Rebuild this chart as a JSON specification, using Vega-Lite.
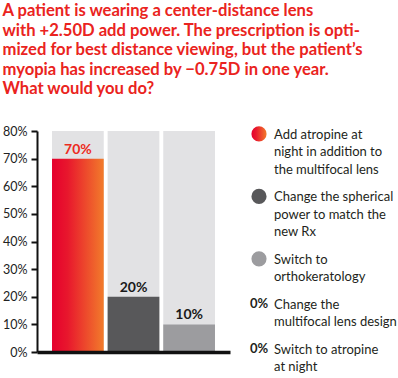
{
  "$schema": "https://vega.github.io/schema/vega-lite/v6.json",
  "padding": {"left": 2, "top": 3, "right": 0, "bottom": 0},
  "autosize": {"type": "pad"},
  "bounds": "flush",
  "spacing": 12,
  "background": "white",
  "config": {
    "view": {"stroke": null},
    "font": "Lato",
    "axisY": {
      "title": null,
      "grid": false,
      "ticks": true,
      "zindex": 2,
      "domainColor": "#111111",
      "domainWidth": 2,
      "tickColor": "#111111",
      "tickWidth": 2,
      "tickSize": 6,
      "labelPadding": 4,
      "labelOverlap": false,
      "labelFontSize": 12.5,
      "labelColor": "#222222",
      "labelFont": "Lato"
    }
  },
  "title": {
    "text": [
      "A patient is wearing a center-distance lens",
      "with +2.50D add power. The prescription is opti-",
      "mized for best distance viewing, but the patient’s",
      "myopia has increased by −0.75D in one year.",
      "What would you do?"
    ],
    "anchor": "start",
    "font": "Lato",
    "fontSize": 16.6,
    "fontWeight": "bold",
    "color": "#ea2320",
    "lineHeight": 19.5,
    "offset": 27
  },
  "datasets": {
    "votes": [
      {"option": "A", "label": "Add atropine at\nnight in addition to\nthe multifocal lens", "share": 0.7, "slot": 0, "marker": "circle"},
      {"option": "B", "label": "Change the spherical\npower to match the\nnew Rx", "share": 0.2, "slot": 3.6, "marker": "circle"},
      {"option": "C", "label": "Switch to\northokeratology", "share": 0.1, "slot": 7.2, "marker": "circle"},
      {"option": "D", "label": "Change the\nmultifocal lens design", "share": 0, "slot": 9.8, "marker": "text"},
      {"option": "E", "label": "Switch to atropine\nat night", "share": 0, "slot": 12.4, "marker": "text"}
    ]
  },
  "hconcat": [
    {
      "width": 193,
      "height": 221,
      "data": {"name": "votes"},
      "transform": [{"filter": "datum.share > 0"}],
      "encoding": {
        "x": {
          "field": "option",
          "type": "nominal",
          "scale": {"paddingInner": 0.07, "paddingOuter": 0.27},
          "axis": {"labels": false, "ticks": false, "title": null, "domainColor": "#111111", "domainWidth": 3.5, "zindex": 2}
        }
      },
      "layer": [
        {
          "mark": {"type": "bar", "color": "#e2e2e4"},
          "encoding": {
            "y": {
              "datum": 0.8,
              "type": "quantitative",
              "scale": {"domain": [0, 0.8], "nice": false},
              "axis": {"format": ".0%", "values": [0, 0.1, 0.2, 0.3, 0.4, 0.5, 0.6, 0.7, 0.8]}
            }
          }
        },
        {
          "transform": [{"filter": "datum.option !== 'A'"}],
          "mark": {"type": "bar"},
          "encoding": {
            "y": {"field": "share", "type": "quantitative", "axis": {"format": ".0%", "values": [0, 0.1, 0.2, 0.3, 0.4, 0.5, 0.6, 0.7, 0.8]}},
            "color": {"field": "option", "type": "nominal", "scale": {"domain": ["B", "C"], "range": ["#58585a", "#9c9c9f"]}, "legend": null}
          }
        },
        {
          "transform": [{"filter": "datum.option === 'A'"}],
          "mark": {
            "type": "bar",
            "color": {
              "gradient": "linear", "x1": 0, "x2": 1, "y1": 0, "y2": 0,
              "stops": [
                {"offset": 0, "color": "#e5002d"},
                {"offset": 0.3, "color": "#e8172d"},
                {"offset": 1, "color": "#f27b2b"}
              ]
            }
          },
          "encoding": {"y": {"field": "share", "type": "quantitative", "axis": {"format": ".0%", "values": [0, 0.1, 0.2, 0.3, 0.4, 0.5, 0.6, 0.7, 0.8]}}}
        },
        {
          "mark": {"type": "text", "baseline": "alphabetic", "dy": -5, "fontSize": 14, "fontWeight": "bold", "font": "Lato"},
          "encoding": {
            "y": {"field": "share", "type": "quantitative", "axis": {"format": ".0%", "values": [0, 0.1, 0.2, 0.3, 0.4, 0.5, 0.6, 0.7, 0.8]}},
            "text": {"field": "share", "type": "quantitative", "format": ".0%"},
            "color": {"condition": {"test": "datum.share > 0.5", "value": "#ec2b1e"}, "value": "#1a1a1a"}
          }
        }
      ]
    },
    {
      "width": 158,
      "height": 221,
      "data": {"name": "votes"},
      "encoding": {
        "y": {"field": "slot", "type": "quantitative", "scale": {"domain": [-0.17, 12.57], "reverse": true, "nice": false, "zero": false}, "axis": null}
      },
      "layer": [
        {
          "transform": [{"filter": "datum.marker === 'circle' && datum.option !== 'A'"}],
          "mark": {"type": "circle", "size": 230, "opacity": 1},
          "encoding": {
            "x": {"datum": 0, "type": "quantitative", "scale": {"domain": [0, 1], "range": [17, 32]}, "axis": null},
            "color": {"field": "option", "type": "nominal", "scale": {"domain": ["B", "C"], "range": ["#58585a", "#9c9c9f"]}, "legend": null}
          }
        },
        {
          "transform": [{"filter": "datum.option === 'A'"}],
          "mark": {
            "type": "circle", "size": 230, "opacity": 1,
            "color": {
              "gradient": "linear", "x1": 0, "x2": 1, "y1": 0, "y2": 0,
              "stops": [
                {"offset": 0, "color": "#e5002d"},
                {"offset": 0.3, "color": "#e8172d"},
                {"offset": 1, "color": "#f27b2b"}
              ]
            }
          },
          "encoding": {
            "x": {"datum": 0, "type": "quantitative"}
          }
        },
        {
          "transform": [{"filter": "datum.marker === 'text'"}],
          "mark": {"type": "text", "align": "center", "baseline": "middle", "fontSize": 13, "fontWeight": "bold", "font": "Lato", "color": "#231f20"},
          "encoding": {
            "x": {"datum": 0, "type": "quantitative"},
            "text": {"field": "share", "type": "quantitative", "format": ".0%"}
          }
        },
        {
          "mark": {"type": "text", "align": "left", "baseline": "alphabetic", "dy": 5, "lineBreak": "\n", "lineHeight": 17.3, "fontSize": 13, "font": "Lato", "color": "#231f20"},
          "encoding": {
            "x": {"datum": 1, "type": "quantitative"},
            "text": {"field": "label", "type": "nominal"}
          }
        }
      ]
    }
  ]
}
